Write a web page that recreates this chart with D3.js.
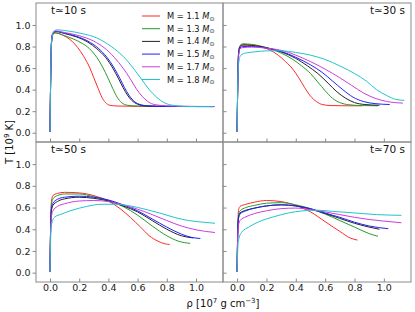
<!DOCTYPE html>
<html><head><meta charset="utf-8">
<script src="https://cdn.jsdelivr.net/npm/d3@7"></script>
<style>body{margin:0;background:#fff}svg{display:block}text{font-family:"DejaVu Sans",sans-serif}</style>
</head><body>
<svg id="c" width="415" height="312"></svg>
<script>
const masses = ["1.1","1.3","1.4","1.5","1.7","1.8"];
const colors = ["#ff2a2a","#2a9a2a","#222222","#2020ff","#cc3ddd","#22c4cc"];
const times = ["10","30","50","70"];
const xTicks = [0,0.2,0.4,0.6,0.8,1.0];
const yTicks = [0,0.2,0.4,0.6,0.8,1.0];

const t10 = [
 [[0,0.01],[0.004,0.45],[0.01,0.82],[0.02,0.92],[0.035,0.93],[0.07,0.915],[0.11,0.89],[0.15,0.85],[0.19,0.79],[0.23,0.71],[0.27,0.61],[0.30,0.51],[0.33,0.41],[0.355,0.33],[0.38,0.28],[0.41,0.255],[0.46,0.248],[0.6,0.245],[0.83,0.243]],
 [[0,0.01],[0.004,0.45],[0.01,0.83],[0.02,0.91],[0.04,0.925],[0.1,0.9],[0.16,0.87],[0.22,0.83],[0.27,0.78],[0.32,0.70],[0.36,0.61],[0.40,0.50],[0.43,0.41],[0.46,0.33],[0.49,0.28],[0.53,0.255],[0.6,0.248],[0.8,0.244],[0.96,0.243]],
 [[0,0.01],[0.004,0.45],[0.01,0.84],[0.02,0.925],[0.04,0.94],[0.1,0.92],[0.18,0.89],[0.26,0.84],[0.32,0.78],[0.38,0.70],[0.43,0.60],[0.47,0.50],[0.50,0.42],[0.53,0.35],[0.56,0.30],[0.6,0.265],[0.66,0.248],[0.8,0.244],[0.97,0.243]],
 [[0,0.01],[0.004,0.45],[0.01,0.84],[0.02,0.925],[0.04,0.94],[0.1,0.925],[0.18,0.895],[0.26,0.85],[0.33,0.785],[0.39,0.70],[0.44,0.60],[0.48,0.50],[0.51,0.42],[0.54,0.35],[0.57,0.30],[0.61,0.265],[0.67,0.25],[0.8,0.244],[1.03,0.243]],
 [[0,0.01],[0.004,0.45],[0.01,0.84],[0.02,0.93],[0.04,0.945],[0.1,0.93],[0.2,0.90],[0.3,0.85],[0.37,0.79],[0.44,0.70],[0.50,0.60],[0.55,0.50],[0.59,0.41],[0.63,0.34],[0.67,0.29],[0.72,0.26],[0.8,0.25],[0.95,0.245],[1.13,0.243]],
 [[0,0.01],[0.004,0.45],[0.01,0.84],[0.025,0.94],[0.05,0.955],[0.12,0.945],[0.22,0.92],[0.32,0.88],[0.42,0.80],[0.50,0.71],[0.57,0.60],[0.63,0.49],[0.68,0.40],[0.73,0.33],[0.78,0.28],[0.84,0.255],[0.92,0.245],[1.0,0.242],[1.12,0.24]]
];
const t30 = [
 [[0,0.01],[0.004,0.4],[0.01,0.74],[0.02,0.80],[0.04,0.815],[0.1,0.815],[0.16,0.80],[0.22,0.77],[0.28,0.72],[0.33,0.66],[0.38,0.59],[0.42,0.51],[0.46,0.42],[0.50,0.34],[0.54,0.29],[0.58,0.262],[0.64,0.252],[0.75,0.25],[0.85,0.25]],
 [[0,0.01],[0.004,0.4],[0.01,0.74],[0.02,0.81],[0.04,0.825],[0.1,0.82],[0.2,0.79],[0.3,0.74],[0.38,0.68],[0.44,0.62],[0.5,0.55],[0.55,0.47],[0.6,0.39],[0.65,0.32],[0.7,0.28],[0.76,0.26],[0.85,0.252],[0.96,0.25]],
 [[0,0.01],[0.004,0.4],[0.01,0.73],[0.02,0.80],[0.04,0.815],[0.1,0.81],[0.2,0.79],[0.3,0.75],[0.4,0.69],[0.48,0.62],[0.55,0.55],[0.62,0.46],[0.68,0.38],[0.74,0.32],[0.8,0.28],[0.87,0.262],[0.97,0.255]],
 [[0,0.01],[0.004,0.4],[0.01,0.72],[0.02,0.79],[0.04,0.80],[0.1,0.80],[0.2,0.785],[0.3,0.755],[0.4,0.70],[0.5,0.63],[0.58,0.56],[0.65,0.48],[0.72,0.40],[0.79,0.33],[0.86,0.29],[0.94,0.27],[1.04,0.262]],
 [[0,0.01],[0.004,0.4],[0.01,0.71],[0.02,0.78],[0.04,0.79],[0.1,0.795],[0.2,0.785],[0.3,0.765],[0.4,0.72],[0.5,0.66],[0.6,0.59],[0.7,0.51],[0.78,0.44],[0.86,0.37],[0.94,0.32],[1.02,0.29],[1.13,0.275]],
 [[0,0.01],[0.004,0.4],[0.01,0.64],[0.025,0.72],[0.06,0.74],[0.12,0.75],[0.2,0.76],[0.3,0.76],[0.4,0.745],[0.5,0.72],[0.6,0.68],[0.7,0.62],[0.8,0.55],[0.88,0.48],[0.95,0.40],[1.02,0.345],[1.08,0.31],[1.14,0.30]]
];
const t50 = [
 [[0,0.01],[0.004,0.4],[0.01,0.66],[0.02,0.71],[0.05,0.73],[0.1,0.74],[0.2,0.735],[0.3,0.71],[0.4,0.66],[0.48,0.59],[0.55,0.51],[0.62,0.42],[0.68,0.34],[0.74,0.29],[0.79,0.265],[0.82,0.26]],
 [[0,0.01],[0.004,0.4],[0.01,0.63],[0.02,0.68],[0.05,0.71],[0.1,0.725],[0.2,0.725],[0.3,0.70],[0.4,0.665],[0.5,0.61],[0.6,0.53],[0.7,0.43],[0.8,0.34],[0.88,0.29],[0.96,0.27]],
 [[0,0.01],[0.004,0.4],[0.01,0.57],[0.02,0.62],[0.05,0.655],[0.1,0.68],[0.2,0.695],[0.3,0.685],[0.4,0.66],[0.5,0.615],[0.6,0.56],[0.7,0.48],[0.8,0.40],[0.9,0.34],[0.98,0.32]],
 [[0,0.01],[0.004,0.4],[0.01,0.59],[0.02,0.64],[0.05,0.675],[0.1,0.695],[0.2,0.705],[0.3,0.695],[0.4,0.67],[0.5,0.625],[0.6,0.57],[0.7,0.495],[0.8,0.42],[0.9,0.355],[0.97,0.325],[1.03,0.315]],
 [[0,0.01],[0.004,0.38],[0.01,0.52],[0.02,0.57],[0.05,0.61],[0.1,0.635],[0.2,0.66],[0.3,0.665],[0.4,0.655],[0.5,0.625],[0.6,0.585],[0.7,0.535],[0.8,0.48],[0.9,0.43],[1.0,0.395],[1.13,0.37]],
 [[0,0.01],[0.004,0.3],[0.01,0.44],[0.03,0.51],[0.08,0.54],[0.15,0.575],[0.25,0.61],[0.35,0.63],[0.45,0.63],[0.55,0.615],[0.65,0.585],[0.75,0.55],[0.85,0.51],[0.95,0.48],[1.05,0.465],[1.13,0.455]]
];
const t70 = [
 [[0,0.01],[0.004,0.35],[0.01,0.58],[0.02,0.61],[0.06,0.63],[0.12,0.65],[0.2,0.665],[0.3,0.655],[0.4,0.62],[0.5,0.56],[0.6,0.47],[0.7,0.38],[0.77,0.32],[0.82,0.30]],
 [[0,0.01],[0.004,0.35],[0.01,0.53],[0.02,0.57],[0.06,0.60],[0.12,0.62],[0.2,0.64],[0.3,0.645],[0.4,0.625],[0.5,0.59],[0.6,0.54],[0.7,0.48],[0.8,0.42],[0.9,0.36],[0.96,0.335]],
 [[0,0.01],[0.004,0.35],[0.01,0.51],[0.02,0.55],[0.06,0.575],[0.12,0.595],[0.2,0.615],[0.3,0.625],[0.4,0.615],[0.5,0.585],[0.6,0.545],[0.7,0.50],[0.8,0.455],[0.9,0.42],[0.97,0.40]],
 [[0,0.01],[0.004,0.35],[0.01,0.50],[0.02,0.54],[0.06,0.57],[0.12,0.595],[0.2,0.615],[0.3,0.625],[0.4,0.615],[0.5,0.59],[0.6,0.55],[0.7,0.51],[0.8,0.465],[0.9,0.43],[1.03,0.405]],
 [[0,0.01],[0.004,0.32],[0.01,0.44],[0.02,0.48],[0.06,0.515],[0.12,0.545],[0.2,0.57],[0.3,0.59],[0.4,0.595],[0.5,0.58],[0.6,0.56],[0.7,0.535],[0.8,0.51],[0.9,0.49],[1.0,0.475],[1.12,0.46]],
 [[0,0.01],[0.004,0.2],[0.01,0.30],[0.03,0.37],[0.08,0.42],[0.15,0.47],[0.25,0.515],[0.35,0.55],[0.45,0.57],[0.55,0.575],[0.65,0.565],[0.75,0.555],[0.85,0.545],[0.95,0.535],[1.05,0.53],[1.12,0.528]]
];
const panelData = [t10, t30, t50, t70];

const svg = d3.select("#c");
const xDom = [-0.096, 1.185], yDom = [-0.086, 1.204];
const cols = [[36,223],[223,411]];
const rows = [[142,3],[282,142]];
const spine = "#8a8a8a";

panelData.forEach((series, i) => {
  const c = i % 2, r = Math.floor(i / 2);
  const x = d3.scaleLinear().domain(xDom).range(cols[c]);
  const y = d3.scaleLinear().domain(yDom).range(rows[r]);
  const g = svg.append("g");
  const cid = "clip" + i;
  g.append("clipPath").attr("id", cid).append("rect")
    .attr("x", cols[c][0]).attr("y", rows[r][1])
    .attr("width", cols[c][1] - cols[c][0]).attr("height", rows[r][0] - rows[r][1]);
  const line = d3.line().x(d => x(d[0])).y(d => y(d[1])).curve(d3.curveMonotoneX);
  const lg = g.append("g").attr("clip-path", `url(#${cid})`);
  series.forEach((s, k) => {
    lg.append("path").datum(s).attr("d", line).attr("fill", "none")
      .attr("stroke", colors[k]).attr("stroke-width", 1);
  });
  // x ticks (inward)
  const xa = d3.axisTop(x).tickValues(xTicks).tickSizeInner(3.5).tickSizeOuter(0).tickFormat(r === 1 ? d3.format(".1f") : "");
  const xg = g.append("g").attr("transform", `translate(0,${rows[r][0]})`).call(xa);
  xg.select(".domain").remove();
  xg.selectAll("line").attr("stroke", spine);
  if (r === 1) {
    xg.selectAll("text").attr("y", 2).attr("dy", "0.71em").attr("font-size", 9.5).attr("fill", "#222").attr("font-family", "DejaVu Sans");
  }
  // y ticks
  if (c === 0) {
    const ya = d3.axisLeft(y).tickValues(yTicks).tickSizeInner(3.5).tickSizeOuter(0).tickPadding(2).tickFormat(d3.format(".1f"));
    const yg = g.append("g").attr("transform", `translate(${cols[c][0]},0)`).call(ya);
    yg.select(".domain").remove();
    yg.selectAll("line").attr("stroke", spine);
    yg.selectAll("text").attr("font-size", 9.5).attr("fill", "#222").attr("font-family", "DejaVu Sans");
  } else {
    const ya = d3.axisRight(y).tickValues(yTicks).tickSizeInner(3.5).tickSizeOuter(0).tickFormat("");
    const yg = g.append("g").attr("transform", `translate(${cols[c][0]},0)`).call(ya);
    yg.select(".domain").remove();
    yg.selectAll("line").attr("stroke", spine);
  }
  // frame
  g.append("rect").attr("x", cols[c][0]).attr("y", rows[r][1])
    .attr("width", cols[c][1] - cols[c][0]).attr("height", rows[r][0] - rows[r][1])
    .attr("fill", "none").attr("stroke", spine).attr("stroke-width", 1);
  // time label
  const lbl = g.append("text").text(`t\u2243${times[i]} s`).attr("font-size", 10.5).attr("fill", "#111")
    .attr("y", rows[r][1] + 11);
  if (c === 0) lbl.attr("x", 51).attr("text-anchor", "start");
  else lbl.attr("x", 405).attr("text-anchor", "end");
});

// legend
const leg = svg.append("g");
masses.forEach((m, k) => {
  const yy = 16 + k * 12.7;
  leg.append("line").attr("x1", 142).attr("x2", 160).attr("y1", yy).attr("y2", yy)
    .attr("stroke", colors[k]).attr("stroke-width", 1);
  const t = leg.append("text").attr("x", 167).attr("y", yy + 3).attr("font-size", 8.3).attr("fill", "#111");
  t.append("tspan").text(`M = ${m} `);
  t.append("tspan").attr("font-style", "italic").text("M");
  t.append("tspan").attr("font-size", 6).attr("dy", 1.5).text("\u2299");
});

// axis labels
svg.append("text").attr("transform", "translate(13,142) rotate(-90)").attr("text-anchor", "middle")
  .attr("font-size", 10).attr("fill", "#111")
  .html('T [10<tspan dy="-4" font-size="7">9</tspan><tspan dy="4"> K]</tspan>');
svg.append("text").attr("x", 223).attr("y", 307).attr("text-anchor", "middle")
  .attr("font-size", 10).attr("fill", "#111")
  .html('\u03c1 [10<tspan dy="-4" font-size="7">7</tspan><tspan dy="4"> g cm</tspan><tspan dy="-4" font-size="7">\u22123</tspan><tspan dy="4">]</tspan>');
</script>
</body></html>
